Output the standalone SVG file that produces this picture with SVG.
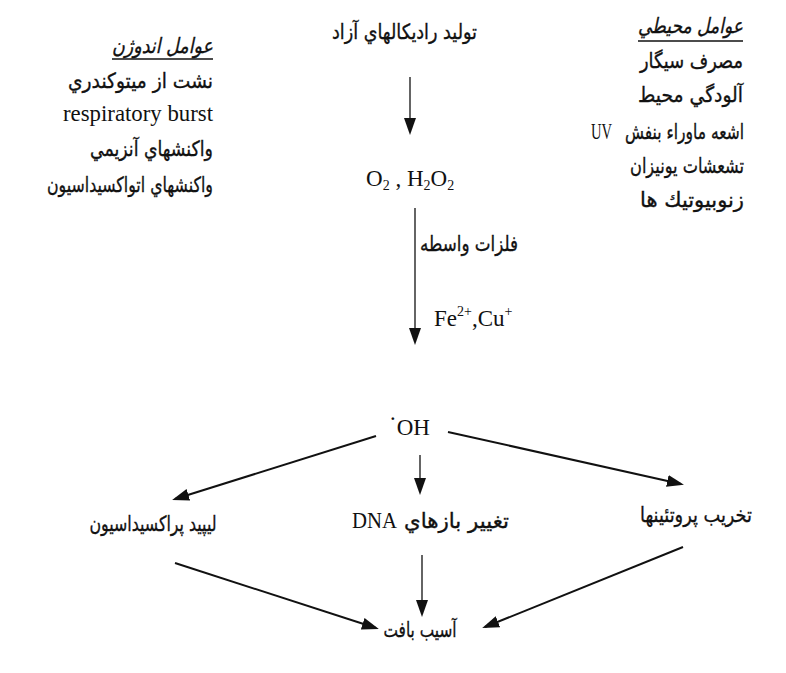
<svg xmlns="http://www.w3.org/2000/svg" width="786" height="673" viewBox="0 0 786 673">
<defs>
<style>
.ar{font-family:"DejaVu Sans",sans-serif;font-size:21px;fill:#111;stroke:#111;stroke-width:0.35;direction:rtl;unicode-bidi:embed}
.r{text-anchor:start}
.m{text-anchor:middle}
.it{font-style:italic}
.lat{font-family:"Liberation Serif",serif;font-size:23px;fill:#111}
.sub{font-size:14px}
.ln{stroke:#111;fill:none}
.thin{stroke-width:1.3}
.thick{stroke-width:2}
.ul{stroke:#111;stroke-width:1.4}
</style>
<marker id="ah" viewBox="0 0 17 12" refX="14" refY="6" markerWidth="17" markerHeight="12" markerUnits="userSpaceOnUse" orient="auto">
<path d="M0,0 L17,6 L0,12 z" fill="#111"/>
</marker>
</defs>
<rect width="786" height="673" fill="#fff"/>

<g id="env-factors">
<text class="ar r it" x="743" y="33" textLength="105" lengthAdjust="spacingAndGlyphs">عوامل محيطي</text>
<line class="ul" x1="638" y1="41" x2="743" y2="41"/>
<text class="ar r" x="743" y="68" textLength="103" lengthAdjust="spacingAndGlyphs">مصرف سيگار</text>
<text class="ar r" x="743" y="102" textLength="105" lengthAdjust="spacingAndGlyphs">آلودگي محيط</text>
<text class="ar r" x="744" y="139" textLength="119" lengthAdjust="spacingAndGlyphs">اشعه ماوراء بنفش</text>
<text class="lat" x="591" y="139" font-size="18" textLength="21" lengthAdjust="spacingAndGlyphs">UV</text>
<text class="ar r" x="744" y="173" textLength="114" lengthAdjust="spacingAndGlyphs">تشعشات يونيزان</text>
<text class="ar r" x="744" y="207" textLength="104" lengthAdjust="spacingAndGlyphs">زنوبيوتيك ها</text>
</g>

<g id="endo-factors">
<text class="ar r it" x="213" y="53" textLength="101" lengthAdjust="spacingAndGlyphs">عوامل اندوژن</text>
<line class="ul" x1="112" y1="59" x2="213" y2="59"/>
<text class="ar r" x="213" y="88" textLength="145" lengthAdjust="spacingAndGlyphs">نشت از ميتوکندري</text>
<text class="lat" x="213" y="121" text-anchor="end" font-size="24" textLength="150" lengthAdjust="spacingAndGlyphs">respiratory burst</text>
<text class="ar r" x="213" y="156" textLength="123" lengthAdjust="spacingAndGlyphs">واکنشهاي آنزيمي</text>
<text class="ar r" x="213" y="192" textLength="166" lengthAdjust="spacingAndGlyphs">واکنشهاي اتواکسيداسيون</text>
</g>

<g id="free-radicals">
<text class="ar r" x="477" y="39" textLength="145" lengthAdjust="spacingAndGlyphs">توليد راديکالهاي آزاد</text>
</g>

<g id="o2-h2o2">
<text class="lat" x="366" y="186">O<tspan class="sub" dy="4">2</tspan><tspan dy="-4"> , H</tspan><tspan class="sub" dy="4">2</tspan><tspan dy="-4">O</tspan><tspan class="sub" dy="4">2</tspan></text>
</g>

<g id="metals">
<text class="ar r" x="518" y="251" textLength="98" lengthAdjust="spacingAndGlyphs">فلزات واسطه</text>
<text class="lat" x="434" y="326">Fe<tspan class="sub" dy="-10">2+</tspan><tspan dy="10">,Cu</tspan><tspan class="sub" dy="-10">+</tspan></text>
</g>

<g id="oh">
<text class="lat" x="389" y="435" font-size="24"><tspan dy="-9">·</tspan><tspan dy="9">OH</tspan></text>
</g>

<g id="lipid">
<text class="ar m" x="153" y="531" textLength="127" lengthAdjust="spacingAndGlyphs">ليپيد پراکسيداسيون</text>
</g>

<g id="dna">
<text class="ar r" x="509" y="528" textLength="105" lengthAdjust="spacingAndGlyphs">تغيير بازهاي</text>
<text class="lat" x="352" y="528" font-size="24" textLength="45" lengthAdjust="spacingAndGlyphs">DNA</text>
</g>

<g id="protein">
<text class="ar r" x="752" y="522" textLength="112" lengthAdjust="spacingAndGlyphs">تخريب پروتئينها</text>
</g>

<g id="tissue">
<text class="ar m" x="420" y="637" textLength="73" lengthAdjust="spacingAndGlyphs">آسيب بافت</text>
</g>

<g id="connectors">
<line class="ln thin" x1="410" y1="77" x2="410" y2="132" marker-end="url(#ah)"/>
<line class="ln thin" x1="415" y1="208" x2="415" y2="342" marker-end="url(#ah)"/>
<line class="ln thick" x1="376" y1="436" x2="175" y2="499" marker-end="url(#ah)"/>
<line class="ln thin" x1="420" y1="455" x2="420" y2="492" marker-end="url(#ah)"/>
<line class="ln thick" x1="448" y1="432" x2="681" y2="484" marker-end="url(#ah)"/>
<line class="ln thick" x1="175" y1="563" x2="376" y2="628" marker-end="url(#ah)"/>
<line class="ln thin" x1="422" y1="555" x2="422" y2="614" marker-end="url(#ah)"/>
<line class="ln thick" x1="683" y1="547" x2="485" y2="627" marker-end="url(#ah)"/>
</g>
</svg>
